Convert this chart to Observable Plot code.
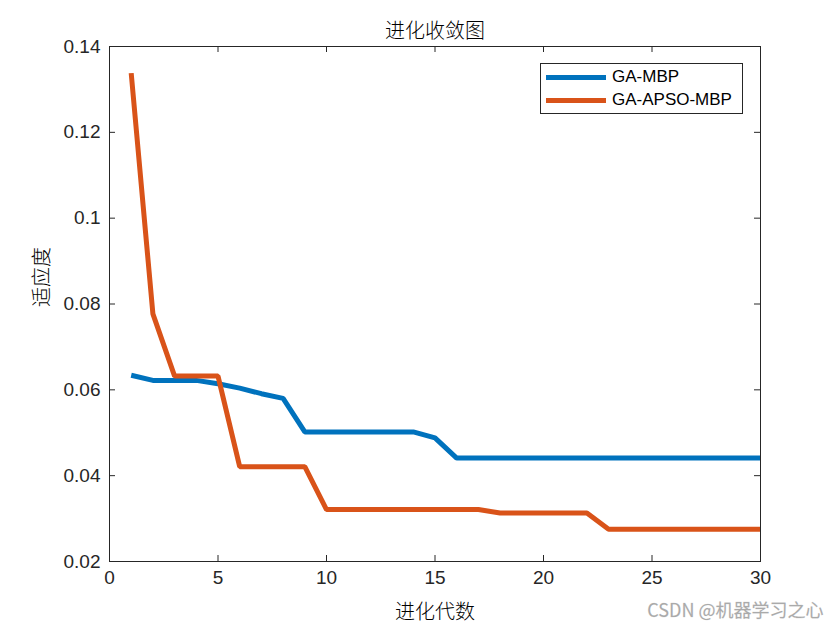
<!DOCTYPE html>
<html><head><meta charset="utf-8">
<script src="https://cdn.jsdelivr.net/npm/d3@7"></script>
<script src="https://cdn.jsdelivr.net/npm/@observablehq/plot@0.6"></script>
<style>
body{margin:0;background:#fff}
#wrap{position:relative;width:840px;height:630px}
#legend{position:absolute;left:540px;top:63px;width:203px;height:51px;border:1px solid #262626;background:#fff;box-sizing:border-box;font-family:"Liberation Sans",Arial,sans-serif;font-size:17px;color:#000}
#legend .row{position:absolute;left:5px;height:20px;display:flex;align-items:center}
#legend .sw{width:60px;height:5px;margin-right:6px}
</style>
</head><body><div id="wrap"></div>
<script>
const generations = [1,2,3,4,5,6,7,8,9,10,11,12,13,14,15,16,17,18,19,20,21,22,23,24,25,26,27,28,29,30];
const gaMBP = [0.0634,0.0622,0.0622,0.0622,0.0614,0.0604,0.0591,0.0580,0.0502,0.0502,0.0502,0.0502,0.0502,0.0502,0.0488,0.0441,0.0441,0.0441,0.0441,0.0441,0.0441,0.0441,0.0441,0.0441,0.0441,0.0441,0.0441,0.0441,0.0441,0.0441];
const gaAPSOMBP = [0.1338,0.0777,0.0632,0.0632,0.0632,0.0421,0.0421,0.0421,0.0421,0.0321,0.0321,0.0321,0.0321,0.0321,0.0321,0.0321,0.0321,0.0313,0.0313,0.0313,0.0313,0.0313,0.0275,0.0275,0.0275,0.0275,0.0275,0.0275,0.0275,0.0275];
const seriesNames = ["GA-MBP","GA-APSO-MBP"];
const seriesColors = ["#0072BD","#D95319"];
const xTicks = [0,5,10,15,20,25,30];
const yTicks = [0.02,0.04,0.06,0.08,0.1,0.12,0.14];
const titleText = "进化收敛图";
const xLabel = "进化代数";
const yLabel = "适应度";
const watermark = "CSDN @机器学习之心";

const rows = [];
[gaMBP, gaAPSOMBP].forEach((vals, s) => vals.forEach((v, i) => rows.push({gen: generations[i], value: v, series: seriesNames[s]})));

const W = 840, H = 630, mL = 109, mR = 80, mT = 46, mB = 69;
const innerW = W - mL - mR, innerH = H - mT - mB;
const tickLen = 6;
const axisColor = "#262626";
const tickFont = "Liberation Sans, Arial, sans-serif";
const cjkFont = "Noto Sans CJK SC, sans-serif";

const chart = Plot.plot({
  width: W, height: H,
  marginLeft: mL, marginRight: mR, marginTop: mT, marginBottom: mB,
  style: {fontFamily: tickFont, background: "#fff", color: axisColor},
  x: {domain: [0, 30], ticks: xTicks},
  y: {domain: [0.02, 0.14], ticks: yTicks},
  color: {domain: seriesNames, range: seriesColors},
  marks: [
    Plot.lineY(rows, {x: "gen", y: "value", stroke: "series", strokeWidth: 5, strokeLinejoin: "miter", strokeLinecap: "butt"}),
    Plot.frame({stroke: axisColor, strokeWidth: 1}),
    Plot.tickX(xTicks, {x: d => d, insetTop: innerH - tickLen, stroke: axisColor}),
    Plot.tickX(xTicks, {x: d => d, insetBottom: innerH - tickLen, stroke: axisColor}),
    Plot.tickY(yTicks, {y: d => d, insetRight: innerW - tickLen, stroke: axisColor}),
    Plot.tickY(yTicks, {y: d => d, insetLeft: innerW - tickLen, stroke: axisColor}),
    Plot.axisX({ticks: xTicks, tickSize: 0, tickPadding: 9, fontSize: 19, label: null, tickFormat: d => String(d), fill: axisColor}),
    Plot.axisY({ticks: yTicks, tickSize: 0, tickPadding: 9, fontSize: 19, label: null, tickFormat: d => String(+d.toFixed(2)), fill: axisColor}),
    Plot.text([titleText], {frameAnchor: "top", dy: -15, text: d => d, fontSize: 20, fontFamily: cjkFont, fontWeight: 300, fill: "#000", lineAnchor: "middle"}),
    Plot.text([xLabel], {frameAnchor: "bottom", dy: 51, text: d => d, fontSize: 20, fontFamily: cjkFont, fontWeight: 300, fill: "#000", lineAnchor: "middle"}),
    Plot.text([yLabel], {frameAnchor: "left", dx: -67, dy: 3, rotate: -90, text: d => d, fontSize: 20, fontFamily: cjkFont, fontWeight: 300, fill: "#000", lineAnchor: "middle"}),
    Plot.text([watermark], {frameAnchor: "bottom-right", dx: 63, dy: 50, text: d => d, fontSize: 18, fontFamily: cjkFont, fill: "#aaa", stroke: "#ddd", strokeWidth: 0.3, textAnchor: "end", lineAnchor: "middle"})
  ]
});

const wrap = document.getElementById("wrap");
wrap.appendChild(chart);
const legend = document.createElement("div");
legend.id = "legend";
seriesNames.forEach((name, i) => {
  const row = document.createElement("div");
  row.className = "row";
  row.style.top = (3 + i * 23) + "px";
  const sw = document.createElement("div");
  sw.className = "sw";
  sw.style.background = seriesColors[i];
  const label = document.createElement("span");
  label.textContent = name;
  row.appendChild(sw); row.appendChild(label);
  legend.appendChild(row);
});
wrap.appendChild(legend);
</script>
</body></html>
